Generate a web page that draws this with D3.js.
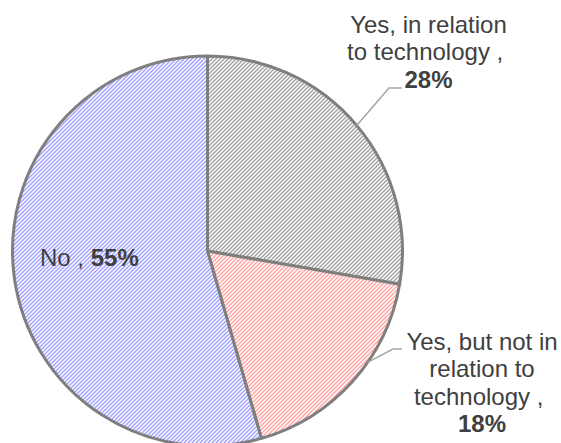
<!DOCTYPE html>
<html>
<head>
<meta charset="utf-8">
<script src="https://cdn.jsdelivr.net/npm/d3@7"></script>
<style>
  html, body { margin: 0; padding: 0; background: #fff; }
  svg { display: block; }
  text { font-family: "Liberation Sans", Arial, sans-serif; fill: #404040; }
</style>
</head>
<body>
<svg id="chart" width="561" height="443"></svg>
<script>
// Survey answer shares (percent)
const categories = [
  ["Yes, in relation", "to technology"],
  ["Yes, but not in", "relation to", "technology"],
  ["No"]
];
const values = [28, 18, 55];
const stripeColors = ["#a0a0a0", "#ffa3a3", "#a0a0ff"];

// Layout of the labels and their leader lines
const layout = [
  { x: 428.5, y: 33, anchor: "middle", valueOwnLine: true,  leader: { at: 0.5,  elbow: [389, 88],  end: 402 } },
  { x: 482,   y: 350, anchor: "middle", valueOwnLine: true, leader: { at: 0.39, elbow: [393, 349], end: 402 } },
  { x: 40,    y: 266, anchor: "start", valueOwnLine: false, leader: null }
];

const svg = d3.select("#chart");
const cx = 207.5, cy = 251, r = 195;
const fontSize = 24, lineH = 27.4;

// Diagonal hatch fills
const defs = svg.append("defs");
stripeColors.forEach((c, i) => {
  const p = defs.append("pattern")
    .attr("id", "hatch" + i)
    .attr("patternUnits", "userSpaceOnUse")
    .attr("width", 4).attr("height", 4);
  p.append("rect").attr("width", 4).attr("height", 4).attr("fill", "#fff");
  for (let y = 0; y < 4; y++) {
    [(3 - y + 4) % 4, (4 - y) % 4].forEach(x => {
      p.append("rect").attr("x", x).attr("y", y).attr("width", 1).attr("height", 1).attr("fill", c);
    });
  }
});

const pie = d3.pie().sort(null).value(d => d).startAngle(0).endAngle(2 * Math.PI);
const arcs = pie(values);
const arc = d3.arc().innerRadius(0).outerRadius(r);

const g = svg.append("g").attr("transform", `translate(${cx},${cy})`);
g.selectAll("path.slice")
  .data(arcs)
  .join("path")
  .attr("class", "slice")
  .attr("d", arc)
  .attr("fill", (d, i) => `url(#hatch${i})`)
  .attr("stroke", "#7f7f7f")
  .attr("stroke-width", 3)
  .attr("stroke-linejoin", "round");

// Leader lines
arcs.forEach((d, i) => {
  const L = layout[i].leader;
  if (!L) return;
  const a = d.startAngle + (d.endAngle - d.startAngle) * L.at;
  const sx = cx + r * Math.sin(a), sy = cy - r * Math.cos(a);
  svg.append("polyline")
    .attr("points", [[sx, sy], L.elbow, [L.end, L.elbow[1]]].map(p => p.join(",")).join(" "))
    .attr("fill", "none")
    .attr("stroke", "#a6a6a6")
    .attr("stroke-width", 1.5);
});

// Data labels
arcs.forEach((d, i) => {
  const lay = layout[i];
  const lines = categories[i];
  const t = svg.append("text")
    .attr("text-anchor", lay.anchor)
    .attr("font-size", fontSize);
  lines.forEach((ln, k) => {
    const last = k === lines.length - 1;
    t.append("tspan")
      .attr("x", lay.x)
      .attr("y", lay.y + k * lineH)
      .text(last ? ln + " , " : ln);
    if (last && !lay.valueOwnLine) {
      t.append("tspan").attr("font-weight", "bold").text(values[i] + "%");
    }
  });
  if (lay.valueOwnLine) {
    t.append("tspan")
      .attr("x", lay.x)
      .attr("y", lay.y + lines.length * lineH)
      .attr("font-weight", "bold")
      .text(values[i] + "%");
  }
});
</script>
</body>
</html>
